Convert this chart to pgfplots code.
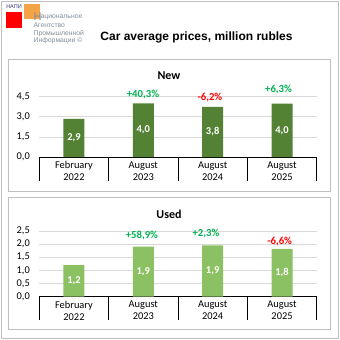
\documentclass[border=0pt]{standalone}
\usepackage{pgfplots}
\pgfplotsset{compat=1.18}
\usepackage{fontspec}
\setmainfont{Carlito}
\newfontfamily\arialfont{Liberation Sans}
\definecolor{newbar}{HTML}{548235}
\definecolor{usedbar}{HTML}{8BC162}
\definecolor{gridgray}{HTML}{D9D9D9}
\definecolor{framegray}{HTML}{BFBFBF}
\definecolor{posgreen}{HTML}{00B050}
\definecolor{negred}{HTML}{FF0000}
\definecolor{logogray}{HTML}{7F8C9A}
\definecolor{logoorange}{HTML}{F4A447}
\tikzset{
  vallab/.style={font=\bfseries\fontsize{10.5bp}{12bp}\selectfont, text=white},
  pctlab/.style={font=\bfseries\fontsize{10.7bp}{12bp}\selectfont},
}
\pgfplotsset{
  panel/.style={
    scale only axis, width=277.4bp,
    xmin=-0.5, xmax=3.5, ymin=0,
    axis x line*=bottom, axis y line*=left,
    x axis line style={black, line width=0.75bp},
    y axis line style={draw=none},
    ymajorgrids, grid style={gridgray, line width=0.75bp},
    major tick length=0pt, tick style={draw=none},
    xtick={0,1,2,3},
    xticklabels={{February\\2022},{August\\2023},{August\\2024},{August\\2025}},
    xticklabel style={align=center, font=\fontsize{10.4bp}{12bp}\selectfont, yshift=-1bp},
    yticklabel style={font=\fontsize{10.4bp}{12bp}\selectfont, xshift=-6bp},
    /pgf/number format/.cd, assume math mode=true, use comma, fixed, fixed zerofill, precision=1,
    /pgfplots/.cd,
    clip=false,
  },
}
\begin{document}
\begin{tikzpicture}
\useasboundingbox (0,0) rectangle (340bp,-340bp);
% frames
\draw[framegray, line width=0.75bp] (1bp,-1bp) rectangle (338bp,-338bp);
\draw[framegray, line width=0.75bp] (8bp,-59.3bp) rectangle (330bp,-191.5bp);
\draw[framegray, line width=0.75bp] (8bp,-197.3bp) rectangle (330bp,-329.3bp);
% logo
\fill[red] (6bp,-12bp) rectangle (22bp,-28bp);
\fill[logoorange] (24bp,-4bp) rectangle (40bp,-19.3bp);
\node[font=\arialfont\fontsize{5.5bp}{6bp}\selectfont, text=black!60!blue!60!gray, inner sep=0pt] at (14bp,-6.5bp) {НАПИ};
\node[font=\arialfont\fontsize{11bp}{12bp}\selectfont, text=logogray, inner sep=0pt, anchor=base west] at (33.5bp,-20bp) {Н};
\node[font=\arialfont\fontsize{6.8bp}{8bp}\selectfont, text=logogray, inner sep=0pt, anchor=base west] at (40.5bp,-18.5bp) {ациональное};
\node[font=\arialfont\fontsize{6.8bp}{8bp}\selectfont, text=logogray, inner sep=0pt, anchor=base west] at (33.5bp,-27.2bp) {Агентство};
\node[font=\arialfont\fontsize{6.8bp}{8bp}\selectfont, text=logogray, inner sep=0pt, anchor=base west] at (33.5bp,-35.8bp) {Промышленной};
\node[font=\arialfont\fontsize{6.8bp}{8bp}\selectfont, text=logogray, inner sep=0pt, anchor=base west] at (33.5bp,-42.8bp) {Информации \textcopyright};
% title
\node[font=\arialfont\bfseries\fontsize{12bp}{14bp}\selectfont] at (196.5bp,-37.7bp) {Car average prices, million rubles};
% panel titles
\node[font=\bfseries\fontsize{12bp}{14bp}\selectfont] at (169bp,-76bp) {New};
\node[font=\bfseries\fontsize{12bp}{14bp}\selectfont] at (169bp,-214bp) {Used};

\begin{axis}[panel, at={(39.3bp,-157bp)}, anchor=south west, height=60.3bp, ymax=4.5, ytick={0,1.5,3,4.5}]
\addplot[ybar, bar width=21bp, bar shift=0pt, fill=newbar, draw=none] coordinates {(0,2.85) (1,4.0) (2,3.75) (3,3.99)};
\node[vallab] at (axis cs:0,1.425) {2,9};
\node[vallab] at (axis cs:1,2.0) {4,0};
\node[vallab] at (axis cs:2,1.875) {3,8};
\node[vallab] at (axis cs:3,1.995) {4,0};
\node[pctlab, text=posgreen] at (axis cs:0.995,4.68) {+40,3\%};
\node[pctlab, text=negred] at (axis cs:1.96,4.455) {-6,2\%};
\node[pctlab, text=posgreen] at (axis cs:2.95,5.05) {+6,3\%};
\draw[black, line width=0.75bp] (axis cs:-0.5,0) -- ++(0pt,-23.5bp);
\draw[black, line width=0.75bp] (axis cs:0.5,0) -- ++(0pt,-23.5bp);
\draw[black, line width=0.75bp] (axis cs:1.5,0) -- ++(0pt,-23.5bp);
\draw[black, line width=0.75bp] (axis cs:2.5,0) -- ++(0pt,-23.5bp);
\draw[black, line width=0.75bp] (axis cs:3.5,0) -- ++(0pt,-23.5bp);
\end{axis}

\begin{axis}[panel, at={(39.3bp,-296.7bp)}, anchor=south west, height=65.7bp, ymax=2.5, ytick={0,0.5,1,1.5,2,2.5}]
\addplot[ybar, bar width=21bp, bar shift=0pt, fill=usedbar, draw=none] coordinates {(0,1.2) (1,1.907) (2,1.951) (3,1.822)};
\node[vallab] at (axis cs:0,0.6) {1,2};
\node[vallab] at (axis cs:1,0.953) {1,9};
\node[vallab] at (axis cs:2,0.975) {1,9};
\node[vallab] at (axis cs:3,0.911) {1,8};
\node[pctlab, text=posgreen] at (axis cs:0.98,2.31) {+58,9\%};
\node[pctlab, text=posgreen] at (axis cs:1.904,2.41) {+2,3\%};
\node[pctlab, text=negred] at (axis cs:2.966,2.09) {-6,6\%};
\draw[black, line width=0.75bp] (axis cs:-0.5,0) -- ++(0pt,-23.3bp);
\draw[black, line width=0.75bp] (axis cs:0.5,0) -- ++(0pt,-23.3bp);
\draw[black, line width=0.75bp] (axis cs:1.5,0) -- ++(0pt,-23.3bp);
\draw[black, line width=0.75bp] (axis cs:2.5,0) -- ++(0pt,-23.3bp);
\draw[black, line width=0.75bp] (axis cs:3.5,0) -- ++(0pt,-23.3bp);
\end{axis}
\end{tikzpicture}
\end{document}
